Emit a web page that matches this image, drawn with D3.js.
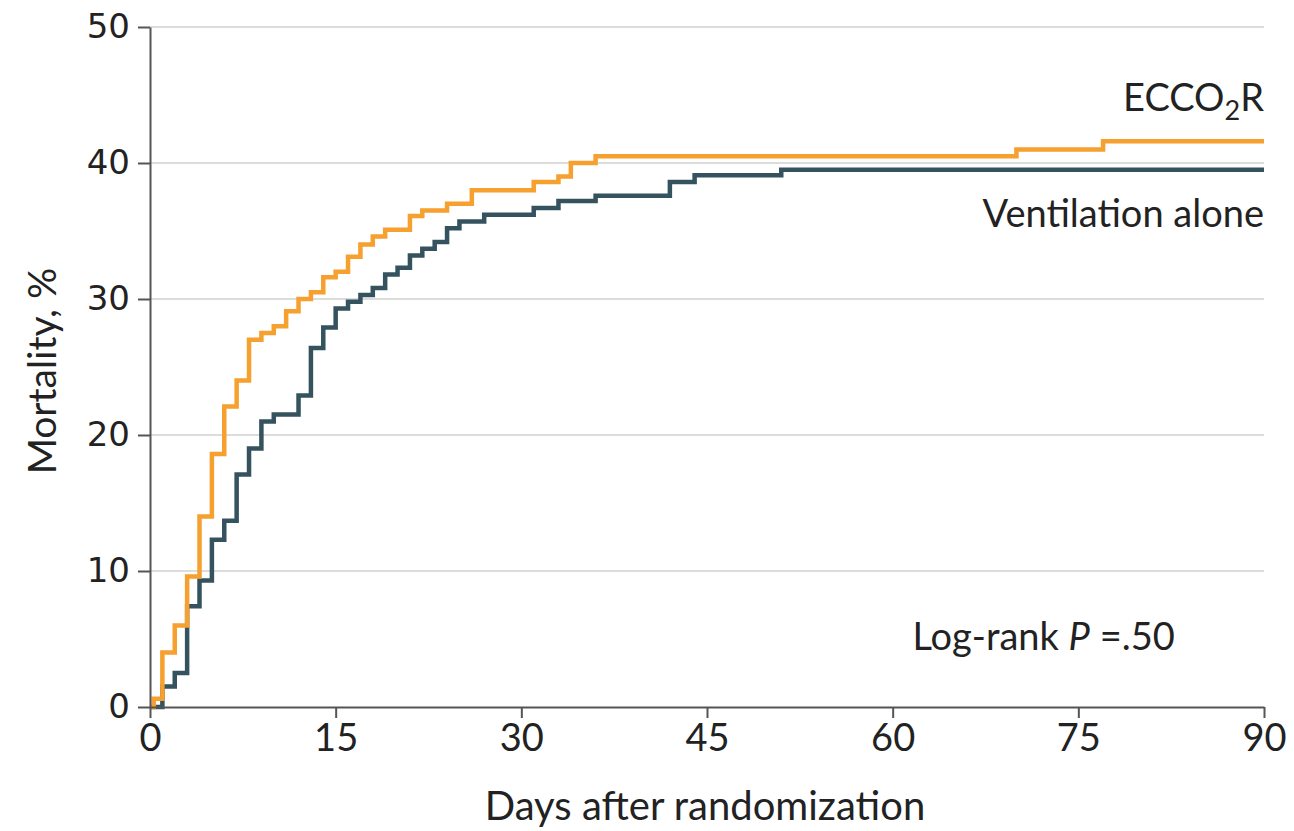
<!DOCTYPE html>
<html>
<head>
<meta charset="utf-8">
<script src="https://cdn.jsdelivr.net/npm/d3@7"></script>
<style>
  body { margin: 0; background: #fff; }
  .lbl { font-family: Lato, "Open Sans", sans-serif; }
</style>
</head>
<body>
<div id="chart"></div>
<script>
// data (day, cumulative mortality %)
const ecco2rDays = [0, 0.3, 1, 2, 3, 4, 5, 6, 7, 8, 9, 10, 11, 12, 13, 14, 15, 16, 17, 18, 19, 21, 22, 24, 26, 31, 33, 34, 36, 70, 77, 90];
const ecco2rMort = [0, 0.6, 4.0, 6.0, 9.6, 14.0, 18.6, 22.1, 24.0, 27.0, 27.5, 28.0, 29.1, 30.0, 30.5, 31.6, 32.0, 33.1, 34.0, 34.6, 35.1, 36.1, 36.5, 37.0, 38.0, 38.6, 39.0, 40.0, 40.5, 41.0, 41.6, 41.6];

const ventDays = [0, 1, 2, 3, 4, 5, 6, 7, 8, 9, 10, 12, 13, 14, 15, 16, 17, 18, 19, 20, 21, 22, 23, 24, 25, 27, 31, 33, 36, 42, 44, 51, 90];
const ventMort = [0, 1.5, 2.5, 7.4, 9.3, 12.3, 13.7, 17.1, 19.0, 21.0, 21.5, 22.9, 26.4, 27.9, 29.3, 29.8, 30.3, 30.8, 31.8, 32.3, 33.2, 33.7, 34.2, 35.2, 35.7, 36.2, 36.7, 37.2, 37.6, 38.6, 39.1, 39.5, 39.5];

const xTicks = [0, 15, 30, 45, 60, 75, 90];
const yTicks = [0, 10, 20, 30, 40, 50];

const W = 1294, H = 831;
const margin = {top: 27, right: 30, bottom: 124, left: 150};
const width = W - margin.left - margin.right;
const height = H - margin.top - margin.bottom;

const svg = d3.select('#chart')
  .append('svg')
    .attr('width', W)
    .attr('height', H)
  .append('g')
    .attr('transform', 'translate(' + margin.left + ',' + margin.top + ')');

const x = d3.scaleLinear().domain([0, 90]).range([0, width]);
const y = d3.scaleLinear().domain([0, 50]).range([height, 0]);

// gridlines
svg.selectAll('.grid')
  .data(yTicks.filter(d => d > 0))
  .enter()
  .append('line')
    .attr('x1', 0)
    .attr('x2', width)
    .attr('y1', d => y(d))
    .attr('y2', d => y(d))
    .attr('stroke', '#dcdcdc')
    .attr('stroke-width', 2);

// curves
const line = d3.line()
  .x(d => x(d[0]))
  .y(d => y(d[1]))
  .curve(d3.curveStepAfter);

const series = [
  {days: ventDays, mort: ventMort, color: '#34535f'},
  {days: ecco2rDays, mort: ecco2rMort, color: '#f5a02f'}
];

series.forEach(s => {
  svg.append('path')
    .datum(s.days.map((d, i) => [d, s.mort[i]]))
    .attr('fill', 'none')
    .attr('stroke', s.color)
    .attr('stroke-width', 4.5)
    .attr('d', line);
});

// y axis
const yAxis = svg.append('g')
  .call(d3.axisLeft(y).tickValues(yTicks).tickSize(12).tickPadding(8).tickSizeOuter(0));
yAxis.select('.domain').attr('stroke', '#555').attr('stroke-width', 2);
yAxis.selectAll('.tick line').attr('stroke', '#555').attr('stroke-width', 2);
yAxis.selectAll('.tick text')
  .attr('font-family', '"DejaVu Sans", sans-serif')
  .attr('font-size', 34)
  .attr('fill', '#222');

// x axis
const xAxis = svg.append('g')
  .attr('transform', 'translate(0,' + height + ')')
  .call(d3.axisBottom(x).tickValues(xTicks).tickSize(11).tickPadding(6).tickSizeOuter(0));
xAxis.select('.domain').attr('stroke', '#555').attr('stroke-width', 2);
xAxis.selectAll('.tick line').attr('stroke', '#555').attr('stroke-width', 2);
xAxis.selectAll('.tick text')
  .attr('class', 'lbl')
  .attr('font-size', 38)
  .attr('fill', '#222');

// axis titles
svg.append('text')
  .attr('class', 'lbl')
  .attr('x', width / 2 - 2)
  .attr('y', height + 113)
  .attr('text-anchor', 'middle')
  .attr('font-size', 40)
  .attr('fill', '#222')
  .text('Days after randomization');

svg.append('text')
  .attr('class', 'lbl')
  .attr('transform', 'translate(' + (-94) + ',' + y(24.7) + ')rotate(-90)')
  .attr('text-anchor', 'middle')
  .attr('font-size', 39)
  .attr('fill', '#222')
  .text('Mortality, %');

// series labels
const ecLabel = svg.append('text')
  .attr('class', 'lbl')
  .attr('x', width)
  .attr('y', 84)
  .attr('text-anchor', 'end')
  .attr('font-size', 38)
  .attr('fill', '#222');
ecLabel.append('tspan').text('ECCO');
ecLabel.append('tspan').attr('font-size', 27).attr('dy', 9).text('2');
ecLabel.append('tspan').attr('dy', -9).text('R');

svg.append('text')
  .attr('class', 'lbl')
  .attr('x', width)
  .attr('y', 200)
  .attr('text-anchor', 'end')
  .attr('font-size', 38)
  .attr('fill', '#222')
  .text('Ventilation alone');

const pLabel = svg.append('text')
  .attr('class', 'lbl')
  .attr('x', x(61.6))
  .attr('y', y(4.2))
  .attr('font-size', 38)
  .attr('fill', '#222');
pLabel.append('tspan').text('Log-rank ');
pLabel.append('tspan').attr('font-style', 'italic').text('P');
pLabel.append('tspan').text(' =.50');
</script>
</body>
</html>
